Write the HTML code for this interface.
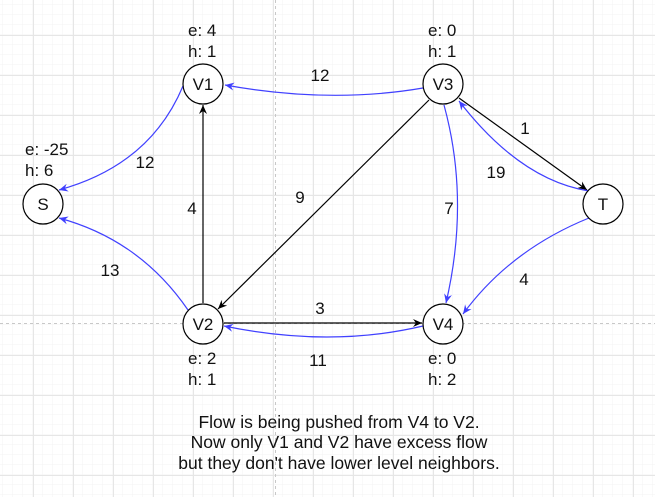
<!DOCTYPE html>
<html><head><meta charset="utf-8"><style>
html,body{margin:0;padding:0;background:#fff;}
svg{display:block;font-family:"Liberation Sans",Arial,sans-serif;}
</style></head><body>
<svg width="655" height="497" viewBox="0 0 655 497" xmlns="http://www.w3.org/2000/svg">
<defs>
<pattern id="gmin" width="10" height="10" patternUnits="userSpaceOnUse" x="3" y="5">
<path d="M10 0V10M0 10H10" stroke="#f3f3f3" stroke-width="1" fill="none"/>
</pattern>
<pattern id="gmaj" width="40" height="40" patternUnits="userSpaceOnUse" x="33" y="35">
<path d="M0.5 0V40M0 0.5H40" stroke="#e6e6e6" stroke-width="1" fill="none"/>
</pattern>
<marker id="ab" markerWidth="10" markerHeight="10" refX="9" refY="5" orient="auto" markerUnits="userSpaceOnUse">
<path d="M0,1 L9,5 L0,9 L3,5 Z" fill="#000"/></marker>
<marker id="abl" markerWidth="10" markerHeight="10" refX="9" refY="5" orient="auto" markerUnits="userSpaceOnUse">
<path d="M0,1 L9,5 L0,9 L3,5 Z" fill="#4040ff"/></marker>
</defs>
<rect width="655" height="497" fill="url(#gmin)"/>
<rect width="655" height="497" fill="url(#gmaj)"/>
<line x1="275.5" y1="0" x2="275.5" y2="497" stroke="#c8c8c8" stroke-dasharray="3,3"/>
<line x1="0" y1="323.5" x2="655" y2="323.5" stroke="#c8c8c8" stroke-dasharray="3,3"/>

<g fill="none" stroke-width="1.2">
<path d="M423,88 Q330,104 225,85" stroke="#4040ff" marker-end="url(#abl)"/>
<path d="M183,86 Q150,165 59,190" stroke="#4040ff" marker-end="url(#abl)"/>
<path d="M188,310 Q140,240 59,218" stroke="#4040ff" marker-end="url(#abl)"/>
<line x1="203" y1="303" x2="203" y2="105" stroke="#000" marker-end="url(#ab)"/>
<line x1="429" y1="100" x2="218" y2="309" stroke="#000" marker-end="url(#ab)"/>
<line x1="459" y1="98" x2="587" y2="190" stroke="#000" marker-end="url(#ab)"/>
<path d="M589,191 Q520,180 459,101" stroke="#4040ff" marker-end="url(#abl)"/>
<path d="M444,105 Q470,200 446,303" stroke="#4040ff" marker-end="url(#abl)"/>
<path d="M589,218 Q510,250 463,314" stroke="#4040ff" marker-end="url(#abl)"/>
<line x1="224" y1="323" x2="422" y2="323" stroke="#000" marker-end="url(#ab)"/>
<path d="M423,326 Q330,348 224,326" stroke="#4040ff" marker-end="url(#abl)"/>
</g>

<g fill="#fff" stroke="#000" stroke-width="1.2">
<circle cx="43" cy="204" r="20"/>
<circle cx="203" cy="84" r="20"/>
<circle cx="443" cy="84" r="20"/>
<circle cx="603" cy="204" r="20"/>
<circle cx="203" cy="324" r="20"/>
<circle cx="443" cy="324" r="20"/>
</g>
<g font-size="17" fill="#111" text-anchor="middle">
<text x="43" y="210">S</text>
<text x="203" y="90">V1</text>
<text x="443" y="90">V3</text>
<text x="603" y="210">T</text>
<text x="203" y="330">V2</text>
<text x="443" y="330">V4</text>
</g>
<g font-size="17" fill="#111">
<text x="188" y="36">e: 4</text><text x="188" y="57">h: 1</text>
<text x="428" y="36">e: 0</text><text x="428" y="57">h: 1</text>
<text x="25" y="155">e: -25</text><text x="25" y="176">h: 6</text>
<text x="188" y="364">e: 2</text><text x="188" y="385">h: 1</text>
<text x="428" y="364">e: 0</text><text x="428" y="385">h: 2</text>
</g>
<g font-size="17" fill="#111" text-anchor="middle">
<text x="320" y="81">12</text>
<text x="145" y="168">12</text>
<text x="110" y="276">13</text>
<text x="192" y="214">4</text>
<text x="300" y="203">9</text>
<text x="525" y="134">1</text>
<text x="496" y="178">19</text>
<text x="449" y="214">7</text>
<text x="524" y="285">4</text>
<text x="320" y="314">3</text>
<text x="318" y="366">11</text>
</g>
<g font-size="17.5" fill="#111" text-anchor="middle">
<text x="339" y="428">Flow is being pushed from V4 to V2.</text>
<text x="339" y="448">Now only V1 and V2 have excess flow</text>
<text x="339" y="469">but they don't have lower level neighbors.</text>
</g>
</svg>
</body></html>
